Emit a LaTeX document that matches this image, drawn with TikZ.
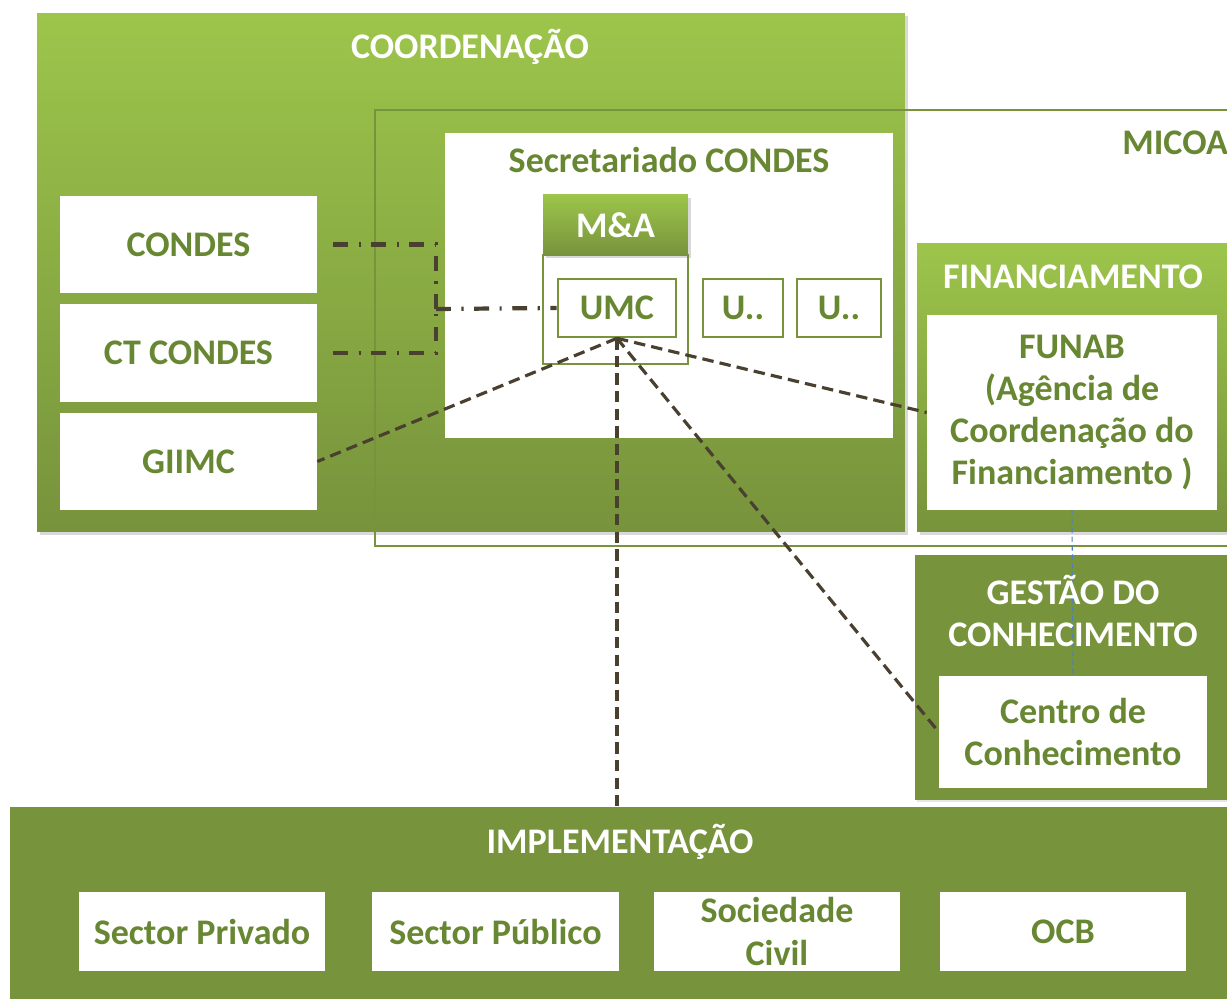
\documentclass[tikz,border=0pt]{standalone}
\usepackage{fontspec}
\setmainfont{Carlito}
\usetikzlibrary{
    positioning,
    backgrounds,
    shadows
    }

\definecolor{leaf}{RGB}{157,197,75}
\definecolor{olive}{RGB}{119,147,60}
\definecolor{moss}{RGB}{104,135,50}
\definecolor{bark}{RGB}{74,64,48}
\definecolor{stream}{RGB}{79,129,189}

\begin{document}
\begin{tikzpicture}[x=0.02cm, y=-0.02cm]
\tikzset{panel/.style =
        {
            rectangle,
            inner sep=0cm,
            top color=leaf,
            bottom color=olive,
            drop shadow={opacity=0.3, shadow xshift=1.5pt, shadow yshift=-1.5pt}
        }
}

\tikzset{band/.style =
        {
            rectangle,
            inner sep=0cm,
            fill=olive,
            drop shadow={opacity=0.2, shadow xshift=1pt, shadow yshift=-1pt}
        }
}

\tikzset{heading/.style =
        {
            text=white,
            align=center,
            font=\bfseries\fontsize{20.5}{24}\selectfont
        }
}

\tikzset{card/.style =
        {
            rectangle,
            inner sep=0cm,
            fill=white,
            text=moss,
            align=center,
            font=\bfseries\fontsize{20.5}{24}\selectfont
        }
}

\tikzset{unit/.style =
        {
            card,
            draw=olive,
            line width=1.5pt
        }
}

\tikzset{frame/.style =
        {
            draw=olive,
            line width=1.5pt
        }
}

\tikzset{chain/.style =
        {
            bark,
            line width=2.4pt,
            dash pattern=on 8.5pt off 6pt on 1.2pt off 6pt
        }
}

\tikzset{link/.style =
        {
            bark,
            line width=1.8pt,
            dash pattern=on 6.5pt off 3.5pt
        }
}

\tikzset{trace/.style =
        {
            stream,
            line width=0.6pt,
            dash pattern=on 3pt off 2pt
        }
}
        \useasboundingbox (0,0) rectangle (1227,999);

        % coordenacao
        \node[panel, minimum width=17.36cm, minimum height=10.38cm] (coord) at (471,272.5) {};
        \node[heading] (coord-title) at (470,47) {COORDENAÇÃO};
        \draw[frame] (375,110) rectangle (1260,546);
        \node[card, text=moss, anchor=west] (micoa) at (1122,143) {MICOA};

        \node[card, minimum width=5.14cm, minimum height=1.94cm] (condes) at (188.5,244.5) {CONDES};
        \node[card, minimum width=5.14cm, minimum height=1.96cm] (ctcondes) at (188.5,353) {CT CONDES};
        \node[card, minimum width=5.14cm, minimum height=1.94cm] (giimc) at (188.5,461.5) {GIIMC};

        \node[card, minimum width=8.96cm, minimum height=6.1cm] (secret) at (669,285.5) {};
        \node[card] (secret-title) at (669,160) {Secretariado CONDES};
        \node[unit, minimum width=2.9cm, minimum height=2.18cm] (ma-body) at (615.5,309.5) {};
        \node[panel, heading, minimum width=2.9cm, minimum height=1.2cm] (ma) at (615.5,225) {M\&A};
        \node[unit, minimum width=2.36cm, minimum height=1.16cm] (umc) at (617,308) {UMC};
        \node[unit, minimum width=1.6cm, minimum height=1.16cm] (u1) at (743,308) {U..};
        \node[unit, minimum width=1.68cm, minimum height=1.16cm] (u2) at (839,308) {U..};

        % financiamento
        \node[panel, minimum width=6.4cm, minimum height=5.78cm] (fin) at (1077,387.5) {};
        \node[heading] (fin-title) at (1073,277) {FINANCIAMENTO};
        \node[card, minimum width=5.8cm, minimum height=3.9cm] (funab) at (1072,412.5)
            {FUNAB\\(Agência de\\Coordenação do\\Financiamento )};

        % gestao
        \node[band, minimum width=6.5cm, minimum height=4.9cm] (gest) at (1077.5,677.5) {};
        \node[card, minimum width=5.36cm, minimum height=2.24cm] (centro) at (1073,732)
            {Centro de\\Conhecimento};
        \draw[trace] (funab.south) -- (centro.north);
        \node[heading] (gest-title) at (1073,611) {GESTÃO DO\\CONHECIMENTO};

        % implementacao
        \node[band, minimum width=24.6cm, minimum height=4.06cm] (impl) at (625,908) {};
        \node[heading] (impl-title) at (620,842) {IMPLEMENTAÇÃO};
        \node[card, minimum width=4.92cm, minimum height=1.6cm] (priv) at (202,931.5) {Sector Privado};
        \node[card, minimum width=4.94cm, minimum height=1.6cm] (pub) at (495.5,931.5) {Sector Público};
        \node[card, minimum width=4.94cm, minimum height=1.6cm] (soc) at (777,931.5)
            {Sociedade\\Civil};
        \node[card, minimum width=4.92cm, minimum height=1.6cm] (ocb) at (1063,931.5) {OCB};

        % ligacoes
        \coordinate (hub) at (436,309);
        \draw[chain, shorten <=9] (condes.east) -| (hub);
        \draw[chain, shorten <=9] (ctcondes.east) -| (hub);
        \draw[chain] (hub) -- (umc.west);

        \draw[link] (umc.south) -- (giimc.east);
        \draw[link] (umc.south) -- (umc.south |- impl.north);
        \draw[link] (umc.south) -- (funab.west);
        \draw[link] (umc.south) -- (centro.west);

\end{tikzpicture}
\end{document}
